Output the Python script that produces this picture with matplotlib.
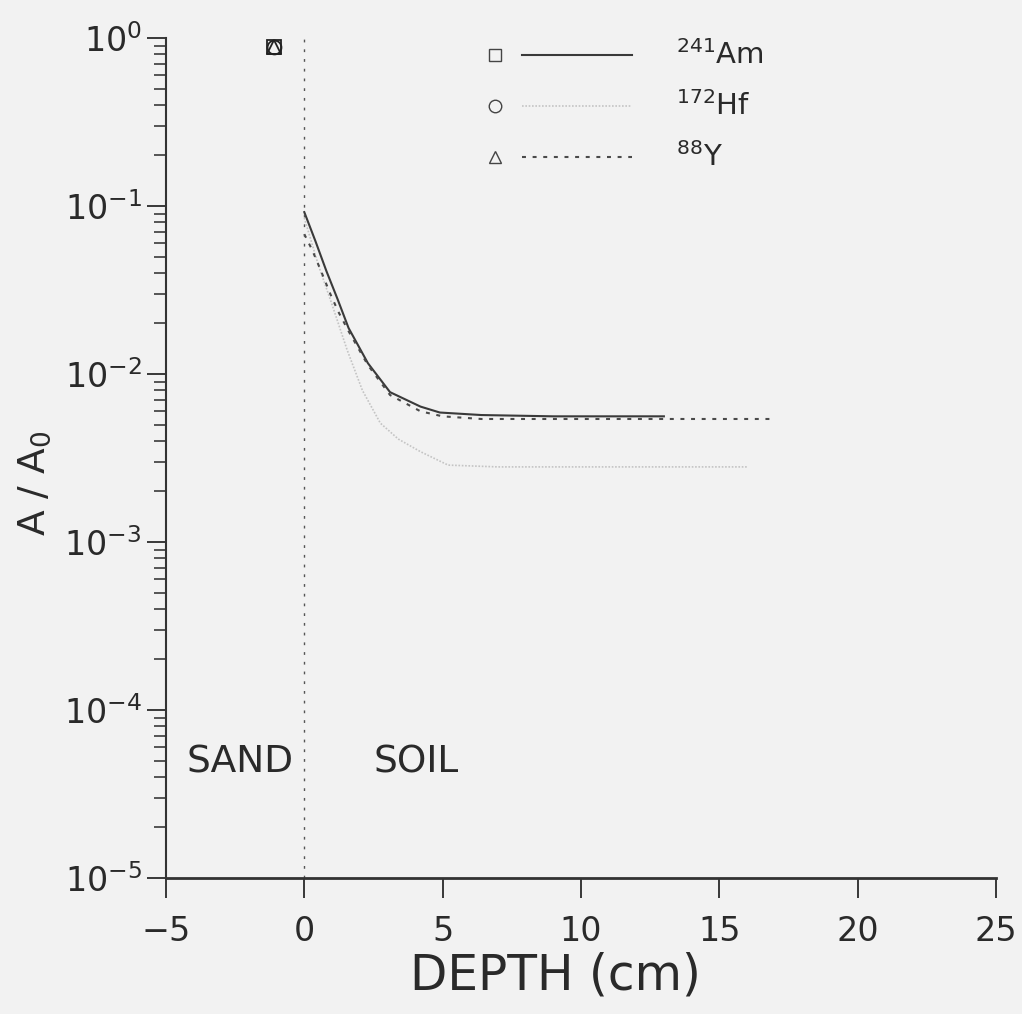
import numpy as np
import matplotlib
matplotlib.use('Agg')
import matplotlib.pyplot as plt
from matplotlib.ticker import LogLocator, NullFormatter

# activity profiles (depth in cm, A/A0)
am_depth = [0, 0.4, 0.8, 1.2, 1.6, 2.3, 3.1, 4.2, 4.9, 6.4, 9.0, 13.0]
am_act = [0.092, 0.062, 0.041, 0.028, 0.0188, 0.0116, 0.0078, 0.0064, 0.0059, 0.0057, 0.0056, 0.0056]

hf_depth = [0, 0.5, 1.0, 1.55, 2.1, 2.75, 3.4, 4.2, 5.2, 7.0, 10.0, 16.0]
hf_act = [0.085, 0.045, 0.026, 0.0139, 0.008, 0.0051, 0.0041, 0.00345, 0.00287, 0.0028, 0.0028, 0.0028]

y_depth = [0, 0.28, 0.58, 0.94, 1.23, 1.6, 2.3, 3.1, 4.2, 5.0, 6.4, 10.0, 16.9]
y_act = [0.068, 0.055, 0.042, 0.030, 0.0235, 0.018, 0.0113, 0.0075, 0.0060, 0.0056, 0.0054, 0.0054, 0.0054]

# initial activity in the sand layer
src_depth = -1.1
src_act = 0.88

labels = [r'$^{241}$Am', r'$^{172}$Hf', r'$^{88}$Y']

bg = '#f2f2f2'
ink = '#2a2a2a'
fig = plt.figure(figsize=(10.22, 10.14), dpi=100, facecolor=bg)
ax = fig.add_axes([0.1624, 0.1341, 0.812, 0.8284], facecolor=bg)

ax.set_yscale('log')
ax.set_xlim(-5, 25)
ax.set_ylim(1e-5, 1e0)

am_style = dict(color='#3a3a3a', lw=1.5, ls='-')
hf_style = dict(color='#c4c4c4', lw=1.2, ls=(0, (1, 1)))
y_style = dict(color='#4a4a4a', lw=1.5, ls=(0, (1.9, 3.2)))

ax.plot(am_depth, am_act, **am_style)
ax.plot(hf_depth, hf_act, **hf_style)
ax.plot(y_depth, y_act, **y_style)

mk = dict(mfc='none', mec='#222222', mew=1.3, ms=10, ls='none')
ax.plot([src_depth], [src_act], marker='s', **mk)
ax.plot([src_depth], [src_act], marker='o', **mk)
ax.plot([src_depth], [src_act], marker='^', **mk)

# sand / soil boundary
ax.axvline(0, color='#555555', lw=1.0, ls=(0, (2, 5)))

ax.text(-4.25, 4.9e-5, 'SAND', fontsize=27, va='center', ha='left', color=ink)
ax.text(2.5, 4.9e-5, 'SOIL', fontsize=27, va='center', ha='left', color=ink)

# hand-made legend: marker, line sample, label
leg_y = [0.980, 0.919, 0.858]
markers = ['s', 'o', '^']
styles = [am_style, hf_style, y_style]
for yy, m, st, lab in zip(leg_y, markers, styles, labels):
    ax.plot([0.396], [yy], marker=m, transform=ax.transAxes, clip_on=False,
            mfc='none', mec='#444444', mew=1.0, ms=9, ls='none')
    ax.plot([0.429, 0.561], [yy, yy], transform=ax.transAxes, clip_on=False, **st)
    ax.text(0.614, yy, lab, transform=ax.transAxes, fontsize=21, va='center',
            ha='left', color=ink)

for s in ['top', 'right']:
    ax.spines[s].set_visible(False)
ax.spines['left'].set_linewidth(1.5)
ax.spines['bottom'].set_linewidth(2.0)
ax.spines['left'].set_color('#333333')
ax.spines['bottom'].set_color('#333333')

ax.set_xticks([-5, 0, 5, 10, 15, 20, 25])
ax.yaxis.set_major_locator(LogLocator(base=10, numticks=10))
ax.yaxis.set_minor_locator(LogLocator(base=10, subs=np.arange(2, 10), numticks=100))
ax.yaxis.set_minor_formatter(NullFormatter())

ax.tick_params(axis='x', which='major', direction='out', length=14.5, width=1.3,
               pad=12, labelsize=24, colors=ink)
ax.tick_params(axis='y', which='major', direction='out', length=13.5, width=1.3,
               pad=4, labelsize=24, colors=ink)
ax.tick_params(axis='y', which='minor', direction='out', length=9, width=1.1,
               colors=ink)

ax.set_xlabel('DEPTH (cm)', fontsize=35, color=ink)
ax.xaxis.set_label_coords(0.469, -0.088)
fig.text(35 / 1022, 1 - 483 / 1014, r'A / A$_0$', fontsize=27, color=ink,
         rotation=90, ha='center', va='center')

fig.savefig('out.png', dpi=100, facecolor=bg)
